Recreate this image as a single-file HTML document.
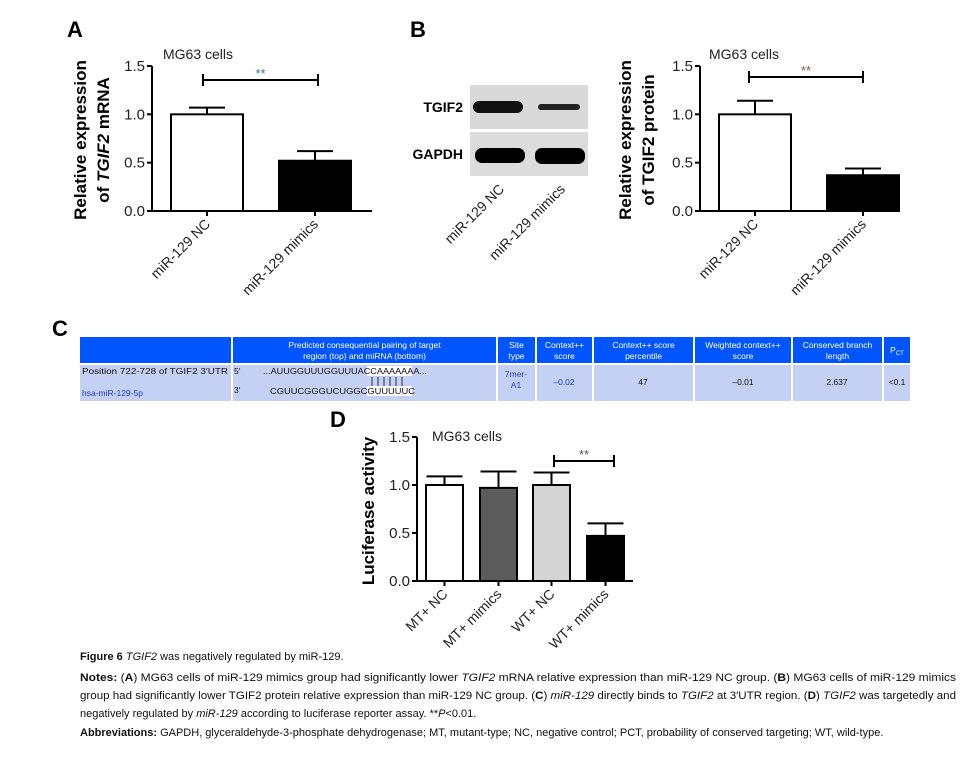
<!DOCTYPE html>
<html><head><meta charset="utf-8"><style>
body{margin:0;background:#fff}
svg{display:block;font-family:"Liberation Sans",Arial,sans-serif}
</style></head><body>
<svg width="970" height="766" viewBox="0 0 970 766" xmlns="http://www.w3.org/2000/svg">
<g id="pA"></g>
<g id="pB"></g>
<g id="pC"></g>
<g id="pD"></g>
<g id="cap"></g>
</svg>
<script>
const aCats=["miR-129 NC","miR-129 mimics"];
const aVals=[1.0,0.52];
const aErr=[0.07,0.10];
const bCats=["miR-129 NC","miR-129 mimics"];
const bVals=[1.0,0.37];
const bErr=[0.14,0.07];
const dCats=["MT+ NC","MT+ mimics","WT+ NC","WT+ mimics"];
const dVals=[1.0,0.97,1.0,0.47];
const dErr=[0.09,0.17,0.13,0.13];
const yTicks=[0,0.5,1.0,1.5];
const yTickLabels=["0.0","0.5","1.0","1.5"];

const NS="http://www.w3.org/2000/svg";
function mk(p,tag,at,txt){const e=document.createElementNS(NS,tag);for(const k in at)e.setAttribute(k,at[k]);if(txt!==undefined)e.textContent=txt;p.appendChild(e);return e;}

function chart(g,o){
  const y=v=>o.y0-(v/1.5)*(o.y0-o.y15);
  const bx=i=>o.bx[i];
  mk(g,'text',{x:o.letterX,y:o.letterY,'font-size':22,'font-weight':'bold'},o.letter);
  const t=mk(g,'text',{x:o.titleX,y:o.titleY,'font-size':14,fill:'#222'},'MG63 cells');
  
  const ax=mk(g,'line',{x1:o.ax,y1:y(1.5),x2:o.ax,y2:y(0),stroke:'#000','stroke-width':2});
  
  const xa=mk(g,'line',{x1:o.ax-1,y1:y(0),x2:o.axEnd,y2:y(0),stroke:'#000','stroke-width':2});
  
  yTicks.forEach((v,i)=>{
    mk(g,'line',{x1:o.ax-5,y1:y(v),x2:o.ax,y2:y(v),stroke:'#000','stroke-width':2});
    const tl=mk(g,'text',{x:o.ax-7,y:y(v)+5,'font-size':15,'text-anchor':'end',fill:'#222'},yTickLabels[i]);
    
  });
  o.yTitle.forEach((line,i)=>{
    const tt=mk(g,'text',{x:0,y:0,'font-size':17,'font-weight':'bold','text-anchor':'middle',transform:`translate(${o.ytX[i]},${o.ytY}) rotate(-90)`});
    tt.innerHTML=line;
    
  });
  o.vals.forEach((v,i)=>{
    const x0=bx(i),cx=x0+o.bw/2;
    const r=mk(g,'rect',{x:x0,y:y(v),width:o.bw,height:y(0)-y(v),fill:o.fills[i],stroke:'#000','stroke-width':2});
    
    const e=o.err[i];
    const eb=mk(g,'path',{d:`M${cx},${y(v)} V${y(v+e)} M${cx-18},${y(v+e)} H${cx+18}`,stroke:'#000','stroke-width':2,fill:'none'});
    
    mk(g,'line',{x1:cx,y1:y(0),x2:cx,y2:y(0)+5,stroke:'#000','stroke-width':2});
    const lbl=mk(g,'text',{x:0,y:0,'font-size':14,'text-anchor':'end',fill:'#222',transform:`translate(${cx+4},${y(0)+14}) rotate(-45)`},o.cats[i]);
    
  });
  const s=o.sig, sy=s.y;
  const sb=mk(g,'path',{d:`M${s.x1},${sy-6} V${sy+6} M${s.x1},${sy} H${s.x2} M${s.x2},${sy-6} V${sy+6}`,stroke:'#000','stroke-width':2,fill:'none'});
  
  const st=mk(g,'text',{x:(s.x1+s.x2)/2,y:sy-2,'font-size':13,'text-anchor':'middle',fill:s.col},'**');
  
}

chart(document.getElementById('pA'),{letter:'A',letterX:67,letterY:37,titleX:163,titleY:59,ax:152,axEnd:372,y0:211,y15:66,
  bx:[171,279],bw:72,vals:aVals,err:aErr,cats:aCats,fills:['#fff','#000'],
  yTitle:['Relative expression','of <tspan font-style="italic">TGIF2</tspan> mRNA'],ytX:[86,109],ytY:140,
  sig:{x1:203,x2:318,y:80,col:'#3a6f9a'}});
chart(document.getElementById('pB'),{letter:'B',letterX:410,letterY:37,titleX:709,titleY:59,ax:700,axEnd:900,y0:211,y15:66,
  bx:[719,827],bw:72,vals:bVals,err:bErr,cats:bCats,fills:['#fff','#000'],
  yTitle:['Relative expression','of TGIF2 protein'],ytX:[631,654],ytY:140,
  sig:{x1:749,x2:863,y:77,col:'#8a5a3a'}});
chart(document.getElementById('pD'),{letter:'D',letterX:330,letterY:427,titleX:432,titleY:441,ax:417,axEnd:633,y0:581,y15:437,
  bx:[426,480,533,587],bw:37,vals:dVals,err:dErr,cats:dCats,fills:['#fff','#5c5c5c','#d4d4d4','#000'],
  yTitle:['Luciferase activity'],ytX:[374],ytY:511,
  sig:{x1:554,x2:614,y:461,col:'#555'}});

(function(){
  const g=document.getElementById('pB');
  mk(g,'rect',{x:470,y:85,width:118,height:44,fill:'#d9d9d9'});
  mk(g,'rect',{x:470,y:132,width:118,height:44,fill:'#dcdcdc'});
  const b1=mk(g,'rect',{x:473,y:101,width:50,height:12,rx:6,fill:'#111'});
  const b2=mk(g,'rect',{x:538,y:104,width:42,height:6,rx:3,fill:'#222'});
  const b3=mk(g,'rect',{x:475,y:148,width:50,height:15,rx:7,fill:'#000'});
  const b4=mk(g,'rect',{x:535,y:148,width:50,height:16,rx:7,fill:'#000'});
  const l1=mk(g,'text',{x:463,y:112,'font-size':14,'font-weight':'bold','text-anchor':'end'},'TGIF2');
  const l2=mk(g,'text',{x:463,y:159,'font-size':14,'font-weight':'bold','text-anchor':'end'},'GAPDH');
  [["miR-129 NC",505],["miR-129 mimics",566]].forEach(([t,x])=>{
    const e=mk(g,'text',{x:0,y:0,'font-size':14,'text-anchor':'end',fill:'#222',transform:`translate(${x},${190}) rotate(-45)`},t);
    
  });
})();

(function(){
  const g=document.getElementById('pC');
  const L=mk(g,'text',{x:52,y:336,'font-size':22,'font-weight':'bold'},'C');
  const cols=[[80,231],[233,496],[498,535],[537,592],[594,693],[695,791],[793,882],[884,910]];
  const hdr=[["","",""],["Predicted consequential pairing of target","region (top) and miRNA (bottom)"],["Site","type"],["Context++","score"],["Context++ score","percentile"],["Weighted context++","score"],["Conserved branch","length"],["P<tspan font-size='6' dy='2'>CT</tspan>"]];
  cols.forEach((c,i)=>{
    const h=mk(g,'rect',{x:c[0],y:337,width:c[1]-c[0],height:26,fill:'#0055ff'});
    
    const r=mk(g,'rect',{x:c[0],y:365,width:c[1]-c[0],height:36,fill:'#c5d0f5'});
    
    const lines=hdr[i].filter(s=>s!=="");
    lines.forEach((s,j)=>{
      const t=mk(g,'text',{x:(c[0]+c[1])/2,y:(lines.length==1?353:348)+j*11,'font-size':8.5,fill:'#fff','text-anchor':'middle'});t.innerHTML=s;
      
    });
  });
  mk(g,'rect',{x:367,y:366,width:45,height:10,fill:'#fff'});
  mk(g,'rect',{x:367,y:386,width:45,height:10,fill:'#fff'});
  const T=(x,y,s,col,anc,w)=>{const a={x,y,'font-size':8.5,fill:col||'#111','text-anchor':anc||'start'};if(w){a.textLength=w;a.lengthAdjust='spacingAndGlyphs';}const e=mk(g,'text',a,s);return e;};
  T(82,374,"Position 722-728 of TGIF2 3′UTR",null,null,146);
  T(82,396,"hsa-miR-129-5p",'#1a3fcf');
  T(234,374,"5′");T(234,393,"3′");
  T(263,374,"...AUUGGUUUGGUUUACCAAAAAAA...",null,null,164);
  T(270,394,"CGUUCGGGUCUGGCGUUUUUC",null,null,145);
  for(let k=0;k<6;k++) mk(g,'line',{x1:372+k*6,y1:377,x2:372+k*6,y2:386,stroke:'#000','stroke-width':0.8});
  T(516,377,"7mer-",'#1a3fcf','middle');T(516,388,"A1",'#1a3fcf','middle');
  T(564,385,"–0.02",'#1a3fcf','middle');
  T(643,385,"47",null,'middle');
  T(743,385,"–0.01",null,'middle');
  T(837,385,"2.637",null,'middle');
  T(897,385,"<0.1",null,'middle');
})();

(function(){
  const g=document.getElementById('cap');
  const lines=[
   [660,'<tspan font-weight="bold">Figure 6</tspan> <tspan font-style="italic">TGIF2</tspan> was negatively regulated by miR-129.',null],
   [681,'<tspan font-weight="bold">Notes:</tspan> (<tspan font-weight="bold">A</tspan>) MG63 cells of miR-129 mimics group had significantly lower <tspan font-style="italic">TGIF2</tspan> mRNA relative expression than miR-129 NC group. (<tspan font-weight="bold">B</tspan>) MG63 cells of miR-129 mimics',876],
   [699,'group had significantly lower TGIF2 protein relative expression than miR-129 NC group. (<tspan font-weight="bold">C</tspan>) <tspan font-style="italic">miR-129</tspan> directly binds to <tspan font-style="italic">TGIF2</tspan> at 3′UTR region. (<tspan font-weight="bold">D</tspan>) <tspan font-style="italic">TGIF2</tspan> was targetedly and',876],
   [717,'negatively regulated by <tspan font-style="italic">miR-129</tspan> according to luciferase reporter assay. **<tspan font-style="italic">P</tspan>&lt;0.01.',null],
   [736,'<tspan font-weight="bold">Abbreviations:</tspan> GAPDH, glyceraldehyde-3-phosphate dehydrogenase; MT, mutant-type; NC, negative control; PCT, probability of conserved targeting; WT, wild-type.',null]];
  lines.forEach(([y,h,w])=>{
    const a={x:80,y:y,'font-size':11,fill:'#111'};
    if(w){a.textLength=w;a.lengthAdjust='spacingAndGlyphs';}
    const e=mk(g,'text',a);e.innerHTML=h;
    
  });
})();
</script>
</body></html>
